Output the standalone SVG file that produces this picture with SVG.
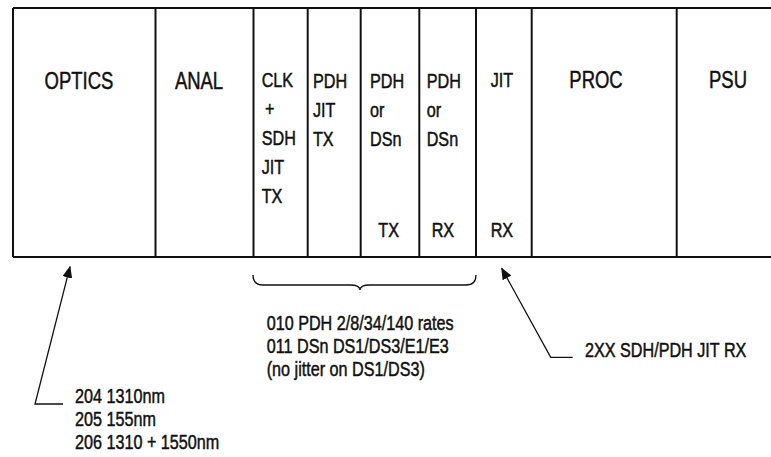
<svg xmlns="http://www.w3.org/2000/svg" width="771" height="457" viewBox="0 0 771 457">
<defs>
<style>
.dv{stroke:#111;stroke-width:2}
.h{font-family:"Liberation Sans",Arial,sans-serif;font-size:24px;fill:#111;stroke:#111;stroke-width:0.5;text-anchor:middle}
.t{font-family:"Liberation Sans",Arial,sans-serif;font-size:21px;fill:#111;stroke:#111;stroke-width:0.5}
.ln{fill:none;stroke:#111;stroke-width:1.3}
</style>
<marker id="ah" viewBox="0 0 12 10" refX="11" refY="5" markerWidth="12" markerHeight="10" markerUnits="userSpaceOnUse" orient="auto">
<path d="M0,0 L12,5 L0,10 Z" fill="#111"/>
</marker>
</defs>
<rect width="771" height="457" fill="#fff"/>
<g id="frame">
<line class="dv" x1="13" y1="8" x2="771" y2="8"/>
<line class="dv" x1="13" y1="257" x2="771" y2="257"/>
<line class="dv" x1="13" y1="8" x2="13" y2="257"/>
</g>
<g id="optics">
<text class="h" transform="translate(79 89) scale(.77 1)">OPTICS</text>
<line class="dv" x1="155.5" y1="8" x2="155.5" y2="257"/>
</g>
<g id="anal">
<text class="h" transform="translate(199 89) scale(.77 1)">ANAL</text>
<line class="dv" x1="253.5" y1="8" x2="253.5" y2="257"/>
</g>
<g id="clk-sdh-jit-tx">
<text class="t" transform="translate(261.7 87) scale(.77 1)">CLK</text>
<text class="t" transform="translate(265 116) scale(.77 1)">+</text>
<text class="t" transform="translate(261.7 145) scale(.77 1)">SDH</text>
<text class="t" transform="translate(261.7 174) scale(.77 1)">JIT</text>
<text class="t" transform="translate(261.7 203) scale(.77 1)">TX</text>
<line class="dv" x1="307.7" y1="8" x2="307.7" y2="257"/>
</g>
<g id="pdh-jit-tx">
<text class="t" transform="translate(313 88) scale(.77 1)">PDH</text>
<text class="t" transform="translate(313 117) scale(.77 1)">JIT</text>
<text class="t" transform="translate(313 146) scale(.77 1)">TX</text>
<line class="dv" x1="360.7" y1="8" x2="360.7" y2="257"/>
</g>
<g id="pdh-dsn-tx">
<text class="t" transform="translate(370 88) scale(.77 1)">PDH</text>
<text class="t" transform="translate(370 117) scale(.77 1)">or</text>
<text class="t" transform="translate(370 146) scale(.77 1)">DSn</text>
<text class="t" transform="translate(378.3 237) scale(.77 1)">TX</text>
<line class="dv" x1="419.3" y1="8" x2="419.3" y2="257"/>
</g>
<g id="pdh-dsn-rx">
<text class="t" transform="translate(426.7 88) scale(.77 1)">PDH</text>
<text class="t" transform="translate(426.7 117) scale(.77 1)">or</text>
<text class="t" transform="translate(426.7 146) scale(.77 1)">DSn</text>
<text class="t" transform="translate(431.7 237) scale(.77 1)">RX</text>
<line class="dv" x1="476" y1="8" x2="476" y2="257"/>
</g>
<g id="jit-rx">
<text class="t" transform="translate(490.7 87) scale(.77 1)">JIT</text>
<text class="t" transform="translate(490.7 237) scale(.77 1)">RX</text>
<line class="dv" x1="531.7" y1="8" x2="531.7" y2="257"/>
</g>
<g id="proc">
<text class="h" transform="translate(596 88) scale(.77 1)">PROC</text>
<line class="dv" x1="676.7" y1="8" x2="676.7" y2="257"/>
</g>
<g id="psu">
<text class="h" transform="translate(728 88) scale(.77 1)">PSU</text>
</g>
<g id="connectors">
<path class="ln" d="M63,404 L35,404 L70,266.7" marker-end="url(#ah)"/>
<path class="ln" d="M572.7,357.3 L550.7,357.3 L501.7,268.3" marker-end="url(#ah)"/>
<path class="ln" d="M253,275 Q253,285 263,285 L350,285 Q360,285 360,290 Q360,285 370,285 L466,285 Q476,285 476,275"/>
</g>
<g id="optics-note">
<text class="t" transform="translate(75 403) scale(.77 1)">204 1310nm</text>
<text class="t" transform="translate(75 426) scale(.77 1)">205 155nm</text>
<text class="t" transform="translate(75 449) scale(.77 1)">206 1310 + 1550nm</text>
</g>
<g id="rates-note">
<text class="t" transform="translate(266.7 330) scale(.77 1)">010 PDH 2/8/34/140 rates</text>
<text class="t" transform="translate(266.7 353) scale(.77 1)">011 DSn DS1/DS3/E1/E3</text>
<text class="t" transform="translate(266.7 376) scale(.77 1)">(no jitter on DS1/DS3)</text>
</g>
<g id="jit-rx-note">
<text class="t" transform="translate(585 357) scale(.77 1)">2XX SDH/PDH JIT RX</text>
</g>
</svg>
